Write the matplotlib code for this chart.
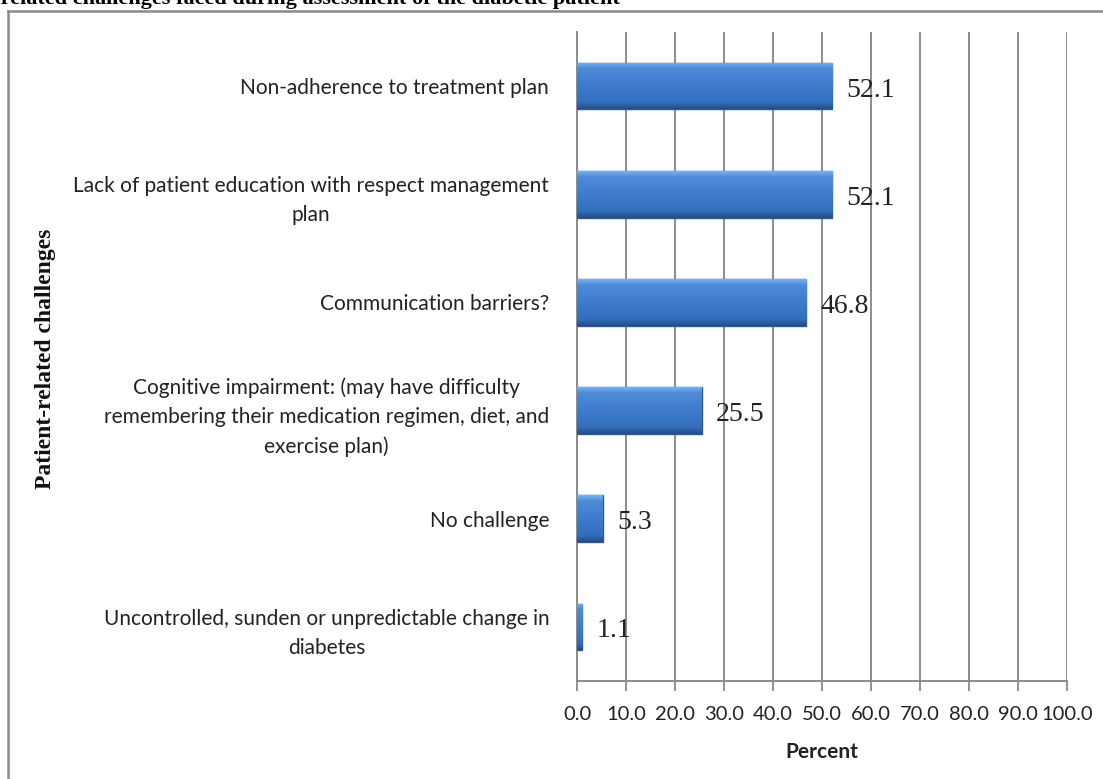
import numpy as np
import matplotlib
matplotlib.use("Agg")
import matplotlib.pyplot as plt
from matplotlib.lines import Line2D
from matplotlib.colors import LinearSegmentedColormap
from matplotlib.transforms import ScaledTranslation

categories = [
    "Non-adherence to treatment plan",
    "Lack of patient education with respect management\nplan",
    "Communication barriers?",
    "Cognitive impairment: (may have difficulty\nremembering their medication regimen, diet, and\nexercise plan)",
    "No challenge",
    "Uncontrolled, sunden or unpredictable change in\ndiabetes",
]
values = [52.1, 52.1, 46.8, 25.5, 5.3, 1.1]
x_ticks = [0, 10, 20, 30, 40, 50, 60, 70, 80, 90, 100]
x_ticklabels = [f"{t:.1f}" for t in x_ticks]
title = "Patient-related challenges faced during assessment of the diabetic patient"
xlabel = "Percent"
ylabel = "Patient-related challenges"

W, H = 1103, 779
fig = plt.figure(figsize=(W / 100, H / 100), dpi=100)
ax = fig.add_axes([577 / W, 1 - 681 / H, 490 / W, 649 / H])

y = np.arange(len(categories))
bars = ax.barh(y, values, height=0.43, color="#3C78C8", edgecolor="#2A5A96",
               linewidth=1.0, zorder=3)

# gradient fill for bars (light top -> dark bottom)
cmap = LinearSegmentedColormap.from_list(
    "bev", [(0.0, "#7AB0EC"), (0.12, "#4E8CDA"), (0.5, "#3E7BCB"),
            (0.85, "#3470BE"), (1.0, "#244F88")])
grad = np.linspace(0, 1, 64).reshape(-1, 1)
for b in bars:
    x0, y0 = b.get_x(), b.get_y()
    w, h = b.get_width(), b.get_height()
    im = ax.imshow(grad, extent=[x0, x0 + w, y0 + h, y0], aspect="auto",
                   cmap=cmap, origin="upper", zorder=3.5)
    im.set_clip_path(b)

shift = ScaledTranslation(0, -4 / 100, fig.dpi_scale_trans)
for yi, v in zip(y, values):
    ax.text(v + 2.9, yi, f"{v:.1f}", va="center", ha="left",
            fontfamily="Liberation Serif", fontsize=20, color="#222222", zorder=5,
            transform=ax.transData + shift)

ax.set_xlim(0, 100)
ax.set_ylim(len(categories) - 0.5, -0.5)
ax.set_xticks(x_ticks)
ax.set_xticklabels(x_ticklabels, fontfamily="Lato", fontsize=14.5, color="#222222")
ax.set_yticks(y)
ax.set_yticklabels(categories, fontfamily="Lato", fontsize=15, color="#222222",
                   linespacing=1.55, multialignment="center")
ax.tick_params(axis="y", length=0, pad=20)
ax.tick_params(axis="x", length=7, width=1.3, color="#888888", pad=11, direction="out")
ax.grid(axis="x", color="#8C8C8C", linewidth=1.4, zorder=0)
for s in ["top", "right"]:
    ax.spines[s].set_visible(False)
ax.spines["bottom"].set_color("#8C8C8C")
ax.spines["bottom"].set_linewidth(1.4)
ax.spines["left"].set_color("#8C8C8C")
ax.spines["left"].set_linewidth(1.4)
ax.set_axisbelow(True)

ax.set_xlabel(xlabel, fontfamily="Lato", fontweight="bold", fontsize=15,
              color="#222222", labelpad=14)

fig.text(46 / W, 1 - 359 / H, ylabel, rotation=90, ha="center", va="center",
         fontfamily="Liberation Serif", fontweight="bold", fontsize=17, color="#111111")

# outer frame
fig.add_artist(Line2D([8 / W, 8 / W], [0, 1 - 11 / H], transform=fig.transFigure,
                      color="#8A8A8A", linewidth=1.8))
fig.add_artist(Line2D([8 / W, 1], [1 - 11 / H, 1 - 11 / H], transform=fig.transFigure,
                      color="#8A8A8A", linewidth=1.8))

# title partially cut off at top-left (as in the reference)
fig.text(-75 / W, 1 - 4 / H, title, ha="left", va="baseline",
         fontfamily="Liberation Serif", fontweight="bold", fontsize=16, color="#000000")

fig.savefig("out.png", dpi=100)
